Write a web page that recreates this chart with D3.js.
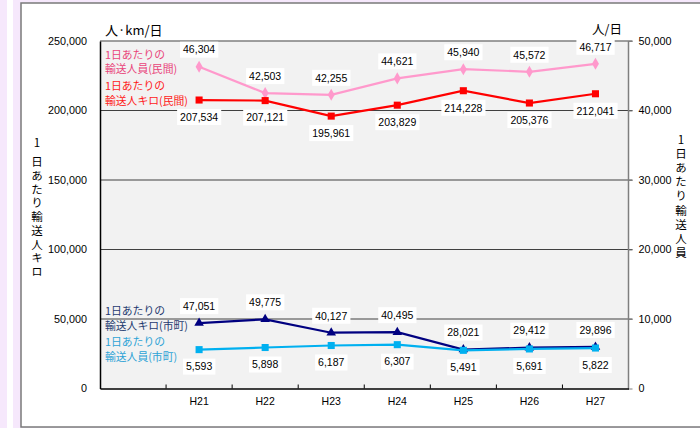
<!DOCTYPE html>
<html><head><meta charset="utf-8">
<script src="https://cdn.jsdelivr.net/npm/d3@7"></script>
<style>
html,body{margin:0;padding:0;background:#fff;}
svg{display:block;}
text{font-family:"Liberation Sans",Arial,"Noto Sans CJK JP",sans-serif;}
.jp{font-family:"Noto Sans CJK JP","Liberation Sans",sans-serif;}
.vt{writing-mode:vertical-rl;text-orientation:upright;}
</style></head>
<body>
<svg id="c" width="700" height="428"></svg>
<script>
const categories = ["", "H21", "H22", "H23", "H24", "H25", "H26", "H27"];
const years = ["H21", "H22", "H23", "H24", "H25", "H26", "H27"];
const privateKm = [207534, 207121, 195961, 203829, 214228, 205376, 212041];
const privatePax = [46304, 42503, 42255, 44621, 45940, 45572, 46717];
const municipalKm = [47051, 49775, 40127, 40495, 28021, 29412, 29896];
const municipalPax = [5593, 5898, 6187, 6307, 5491, 5691, 5822];
const leftTicks = [0, 50000, 100000, 150000, 200000, 250000];
const rightTicks = [0, 10000, 20000, 30000, 40000, 50000];

const svg = d3.select("#c");
const W = 700, H = 428;
const L = 100, R = 628.5, T = 41, B = 388.5;

// page background strips
svg.append("rect").attr("x",0).attr("y",0).attr("width",W).attr("height",H).attr("fill","#f6e8fc");
svg.append("rect").attr("x",7).attr("y",0).attr("width",6).attr("height",H).attr("fill","#ffffff");
svg.append("rect").attr("x",21).attr("y",3).attr("width",700).attr("height",424)
  .attr("fill","#fff").attr("stroke","#7a7a7a").attr("stroke-width",1.5);

const x = d3.scaleBand().domain(categories).range([L, R]).padding(0);
const yL = d3.scaleLinear().domain([0, 250000]).range([B, T]);
const yR = d3.scaleLinear().domain([0, 50000]).range([B, T]);
const cx = d => x(d) + x.bandwidth()/2;

// plot area
svg.append("rect").attr("x",L).attr("y",T).attr("width",R-L).attr("height",B-T).attr("fill","#f2f2f2");

// gridlines
svg.append("g").selectAll("line").data(leftTicks.filter(v => v > 0 && v < 250000)).join("line")
  .attr("x1", L).attr("x2", R + 4).attr("y1", d => yL(d)).attr("y2", d => yL(d))
  .attr("stroke","#404040").attr("stroke-width",1);
// top and right borders
svg.append("line").attr("x1",L).attr("x2",R+4).attr("y1",T).attr("y2",T).attr("stroke","#7f7f7f").attr("stroke-width",1.5);
svg.append("line").attr("x1",R).attr("x2",R).attr("y1",T).attr("y2",B).attr("stroke","#7f7f7f").attr("stroke-width",1.5);

// left axis
const gL = svg.append("g").attr("transform",`translate(${L},0)`)
  .call(d3.axisLeft(yL).tickValues(leftTicks).tickSize(0).tickPadding(13).tickFormat(d3.format(",")));
gL.select(".domain").attr("stroke","#000").attr("stroke-width",1.5);
gL.selectAll("text").attr("font-size","10.8px").attr("fill","#000").attr("font-family","Liberation Sans, Arial, sans-serif");

// right axis
const gR = svg.append("g").attr("transform",`translate(${R},0)`)
  .call(d3.axisRight(yR).tickValues(rightTicks).tickSize(4).tickPadding(6).tickFormat(d3.format(",")));
gR.select(".domain").remove();
gR.selectAll("line").attr("stroke","#7f7f7f");
gR.selectAll("text").attr("font-size","10.8px").attr("fill","#000").attr("font-family","Liberation Sans, Arial, sans-serif");

// bottom axis
const gB = svg.append("g").attr("transform",`translate(0,${B})`)
  .call(d3.axisBottom(x).tickSize(0).tickPadding(9));
gB.select(".domain").attr("stroke","#000").attr("stroke-width",1.5);
gB.selectAll("text").attr("font-size","10.5px").attr("fill","#000").attr("font-family","Liberation Sans, Arial, sans-serif");
svg.append("g").selectAll("line").data(categories.slice(1)).join("line")
  .attr("x1", d => x(d)).attr("x2", d => x(d)).attr("y1", B).attr("y2", B - 4)
  .attr("stroke","#000").attr("stroke-width",1);

// axis unit titles
svg.append("text").attr("class","jp").attr("x",105).attr("y",30).attr("dy","0.35em")
  .attr("font-size","13px").attr("fill","#000").text("人·km/日");
svg.append("text").attr("class","jp").attr("x",622).attr("y",30).attr("dy","0.35em").attr("text-anchor","end")
  .attr("font-size","12.5px").attr("fill","#000").text("人/日");

// vertical titles: leading "1" then vertical text
function vtitle(str, xc, y1, yTop, step){
  const fs = 11.5;
  svg.append("text").attr("class","jp").attr("x",xc).attr("y",y1).attr("dy","0.35em")
    .attr("text-anchor","middle").attr("font-size",fs+"px").attr("fill","#000").text(str[0]);
  svg.append("text").attr("class","jp vt").attr("x",xc).attr("y",yTop)
    .attr("font-size",fs+"px").attr("letter-spacing",(step-fs)+"px").attr("fill","#000").text(str.slice(1));
}
vtitle("1日あたり輸送人キロ", 37, 143, 156, 13.75);
vtitle("1日あたり輸送人員", 681, 140, 148, 14.1);

// series
const series = [
  {vals: privatePax, scale: yR, color: "#ff99cc", marker: "diamond", labelDy: -17},
  {vals: privateKm, scale: yL, color: "#ff0000", marker: "square", labelDy: 17},
  {vals: municipalKm, scale: yL, color: "#000080", marker: "triangle", labelDy: -17},
  {vals: municipalPax, scale: yR, color: "#00b0f0", marker: "square", labelDy: 17}
];
const fmt = d3.format(",");
series.forEach(s => {
  const pts = s.vals.map((v,i)=>({cat: years[i], v}));
  svg.append("path").datum(pts)
    .attr("d", d3.line().x(d=>cx(d.cat)).y(d=>s.scale(d.v)))
    .attr("fill","none").attr("stroke",s.color).attr("stroke-width",2.2);
  const sym = s.marker === "diamond" ? d3.symbol().type(d3.symbolDiamond).size(42)
            : s.marker === "triangle" ? d3.symbol().type(d3.symbolTriangle).size(40)
            : d3.symbol().type(d3.symbolSquare).size(50);
  svg.append("g").selectAll("path").data(pts).join("path")
    .attr("transform", d=>`translate(${cx(d.cat)},${s.scale(d.v)})`)
    .attr("d", sym).attr("fill", s.color);
});

// data labels (on top)
series.forEach(s => {
  const pts = s.vals.map((v,i)=>({cat: years[i], v}));
  const g = svg.append("g");
  pts.forEach(d => {
    const lx = cx(d.cat), ly = s.scale(d.v) + s.labelDy;
    const t = g.append("text").attr("x",lx).attr("y",ly).attr("dy","0.36em").attr("text-anchor","middle")
      .attr("font-size","10.5px").attr("fill","#000").text(fmt(d.v));
    const bb = t.node().getBBox();
    g.insert("rect", () => t.node()).attr("x", bb.x - 3).attr("y", ly - 8).attr("width", bb.width + 6).attr("height", 16).attr("fill","#fff");
  });
});

// legend texts (one text element per block, two lines)
const legend = [
  {lines:["1日あたりの","輸送人員(民間)"], color:"#e9457b", y:55},
  {lines:["1日あたりの","輸送人キロ(民間)"], color:"#ff1a1a", y:86.7},
  {lines:["1日あたりの","輸送人キロ(市町)"], color:"#1f3a70", y:311.7},
  {lines:["1日あたりの","輸送人員(市町)"], color:"#2ea3d6", y:342.7}
];
legend.forEach(l => {
  const t = svg.append("text").attr("class","jp").attr("x",105).attr("y",l.y)
    .attr("font-size","10.8px").attr("fill",l.color);
  l.lines.forEach((ln,i)=>{
    t.append("tspan").attr("x",105).attr("dy", i===0 ? "0.35em" : "14.5px").text(ln);
  });
});
</script>
</body></html>
